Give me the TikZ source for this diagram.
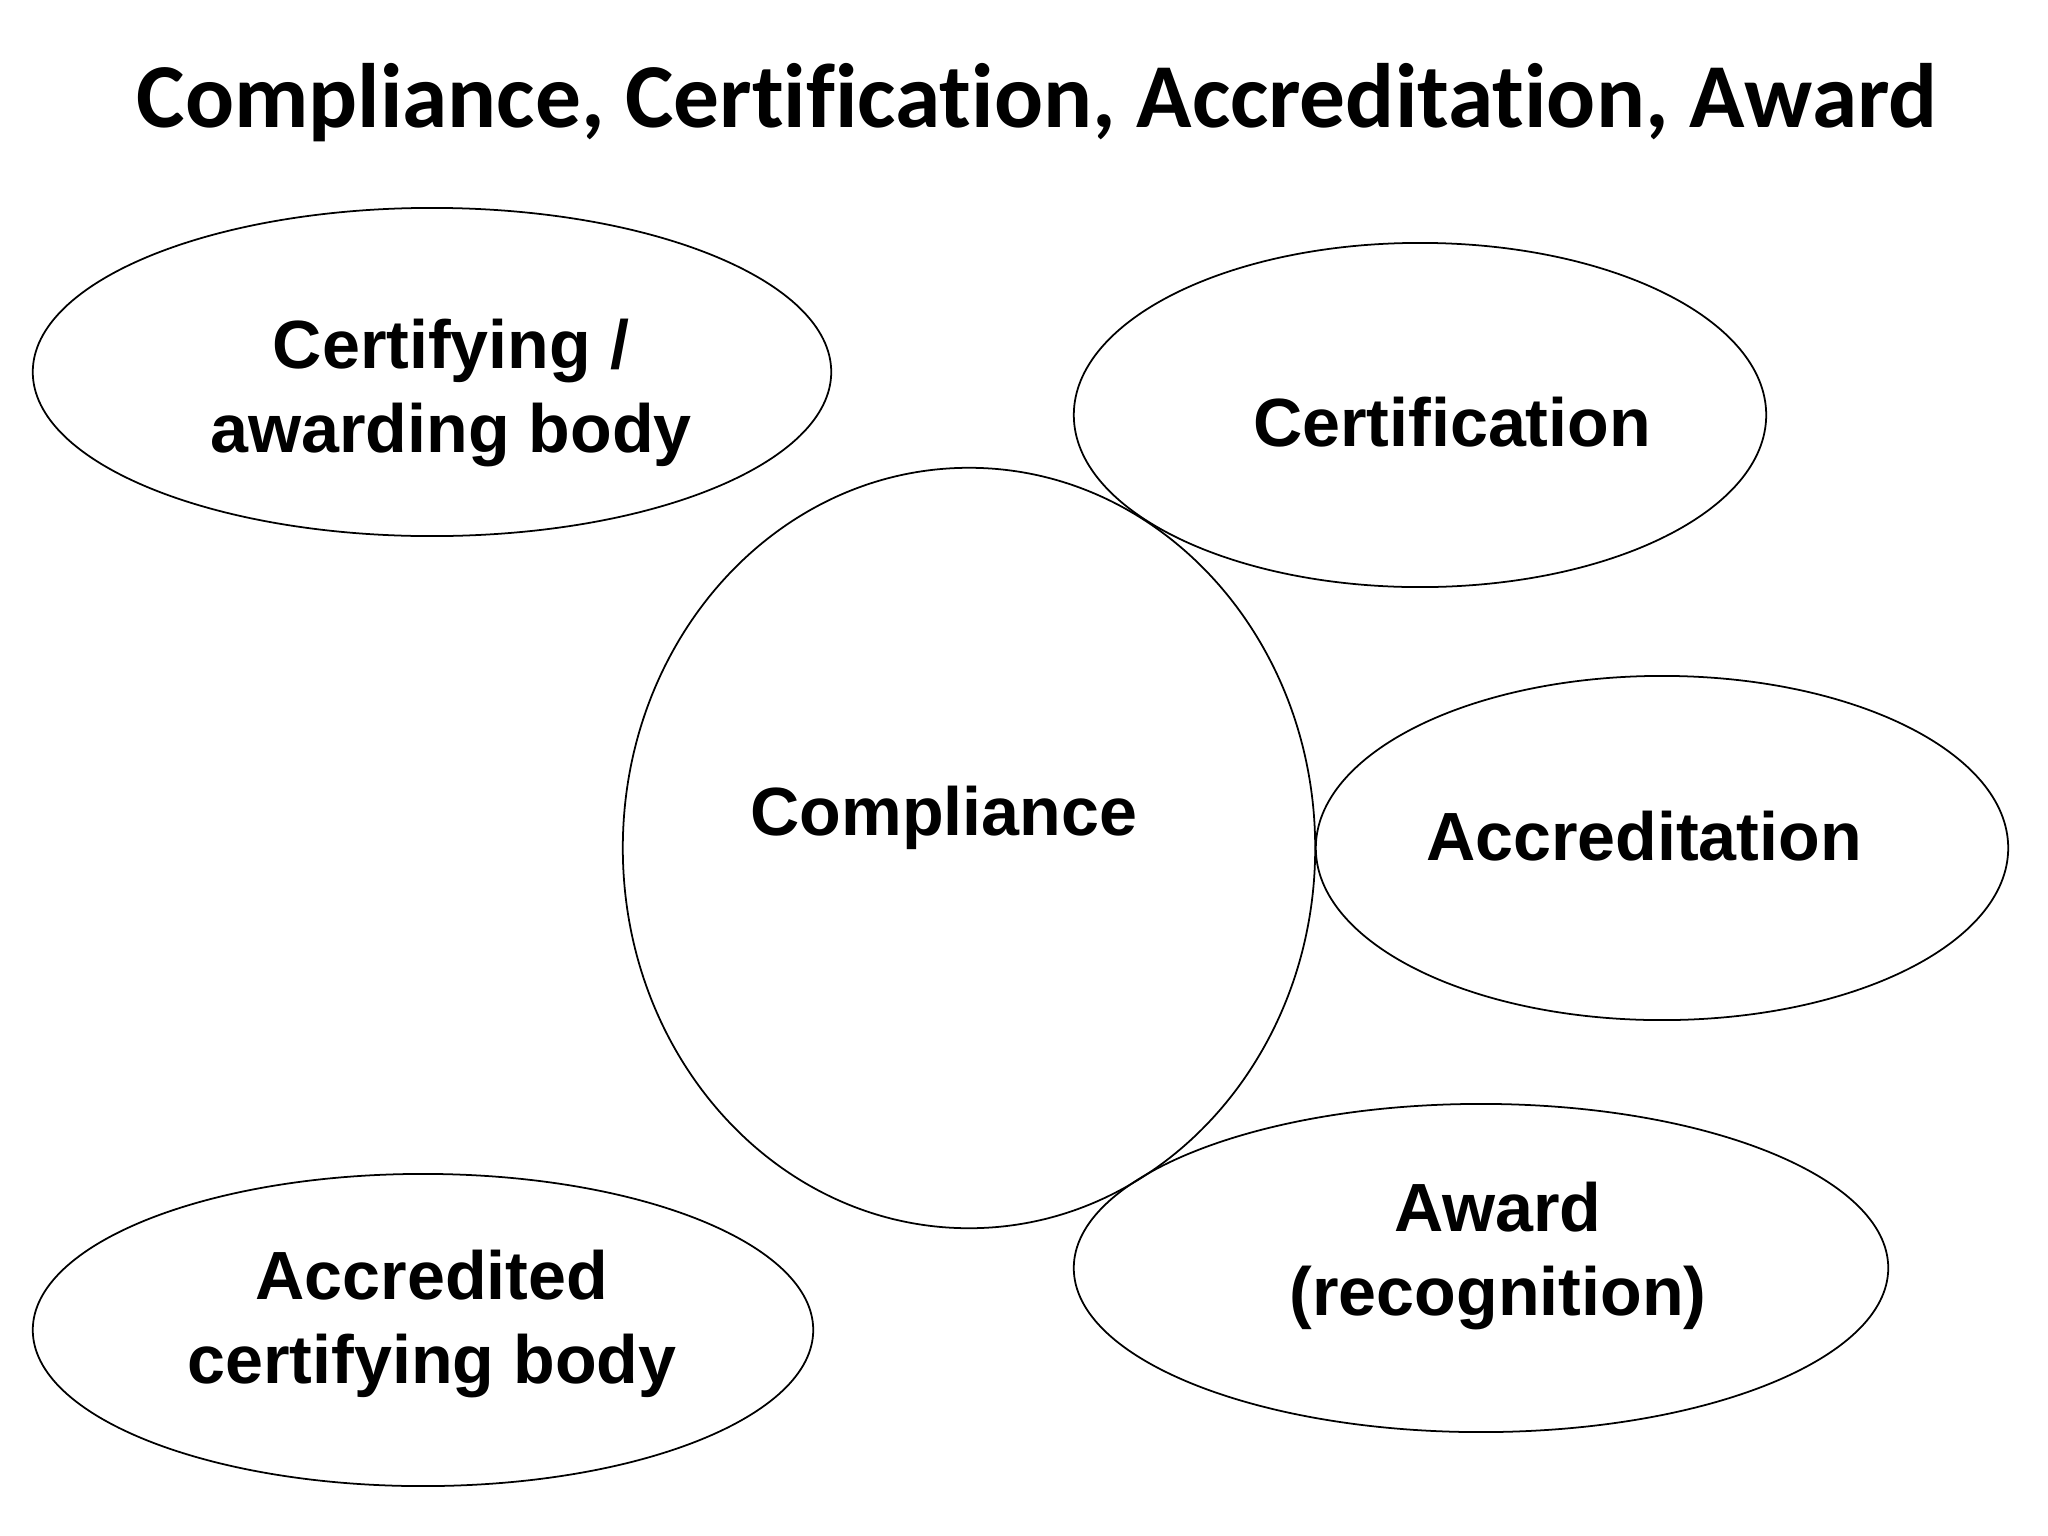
\documentclass[tikz,border=0pt]{standalone}
\usepackage{fontspec}
\setmainfont{Liberation Sans}
\newfontfamily\titlefont[Ligatures=NoCommon]{Carlito}
\usetikzlibrary{shapes.geometric}

\tikzset{
  bubble/.style={draw, ellipse, line width=0.5pt, inner sep=0pt},
  lbl/.style={align=center, font=\bfseries\fontsize{19.4}{23.8}\selectfont},
}

\begin{document}
\begin{tikzpicture}[x=0.01cm, y=-0.01cm]
    \useasboundingbox (0,0) rectangle (2048,1536);

    \node[font=\titlefont\bfseries\fontsize{26}{30}\selectfont] (title) at (1037,103) {Compliance, Certification, Accreditation, Award};

    % the bubbles
    \node[bubble, minimum width=7.98cm, minimum height=3.28cm] (body) at (432,372) {};
    \node[bubble, minimum width=6.92cm, minimum height=3.44cm] (cert) at (1420,415) {};
    \node[bubble, minimum width=6.92cm, minimum height=7.60cm] (compl) at (969,848) {};
    \node[bubble, minimum width=6.92cm, minimum height=3.44cm] (accr) at (1662,848) {};
    \node[bubble, minimum width=8.14cm, minimum height=3.28cm] (award) at (1481,1268) {};
    \node[bubble, minimum width=7.80cm, minimum height=3.12cm] (accbody) at (423,1330) {};

    \node[lbl] at (451,393) {Certifying /\\awarding body};
    \node[lbl] at (1452,422) {Certification};
    \node[lbl] at (944,818) {Compliance};
    \node[lbl] at (1644,836) {Accreditation};
    \node[lbl] at (1498,1256) {Award\\(recognition)};
    \node[lbl] at (432,1324) {Accredited\\certifying body};
\end{tikzpicture}
\end{document}
